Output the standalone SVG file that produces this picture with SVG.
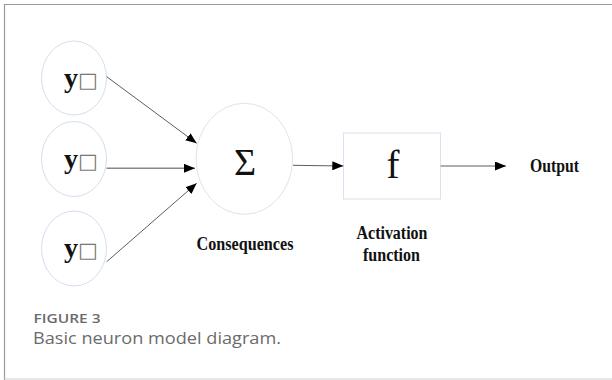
<svg xmlns="http://www.w3.org/2000/svg" width="612" height="380" viewBox="0 0 612 380">
<style>
.in{fill:#fff;stroke:#d3deef;stroke-width:1}
.sum{fill:#fff;stroke:#e6e4d6;stroke-width:1}
.box{fill:#fff;stroke:#d8e2f0;stroke-width:1}
.lbl{font-family:"Liberation Serif","Times New Roman",serif;font-weight:bold;fill:#111}
.sym{font-family:"Liberation Serif","Times New Roman",serif;fill:#111}
.tofu{font-family:"DejaVu Sans",sans-serif;fill:#777;font-weight:normal}
.ln{stroke:#333;stroke-width:0.8;fill:none;marker-end:url(#ah)}
.cap1{font-family:"Open Sans",sans-serif;font-weight:600;fill:#6b6b6b}
.cap2{font-family:"Open Sans",sans-serif;fill:#6b6b6b}
</style>
<defs>
<marker id="ah" viewBox="0 0 10 10" refX="10" refY="5" markerUnits="userSpaceOnUse" markerWidth="11" markerHeight="9" orient="auto" preserveAspectRatio="none">
<path d="M0,0 L10,5 L0,10 z" fill="#000"/>
</marker>
</defs>
<rect width="612" height="380" fill="#fff"/>
<path d="M612,4.5 H4.5 V380" fill="none" stroke="#9a9a9a" stroke-width="1.2"/>
<path d="M4.5,379 H612" fill="none" stroke="#d0d0d0" stroke-width="1.2"/>

<g id="in1">
<ellipse class="in" cx="74" cy="78" rx="32.5" ry="37"/>
<text class="lbl" x="64" y="87" font-size="28">y<tspan class="tofu" font-size="21">□</tspan></text>
</g>
<g id="in2">
<ellipse class="in" cx="74" cy="159" rx="32.5" ry="37.5"/>
<text class="lbl" x="64" y="168" font-size="28">y<tspan class="tofu" font-size="21">□</tspan></text>
</g>
<g id="in3">
<ellipse class="in" cx="74" cy="248.5" rx="32.5" ry="37.5"/>
<text class="lbl" x="64" y="257" font-size="28">y<tspan class="tofu" font-size="21">□</tspan></text>
</g>
<g id="sum">
<ellipse class="sum" cx="244.3" cy="158.8" rx="48.3" ry="55.5"/>
<text class="sym" x="245" y="174.5" font-size="38" text-anchor="middle">Σ</text>
<text class="lbl" x="245" y="249.5" font-size="18" text-anchor="middle" textLength="97" lengthAdjust="spacingAndGlyphs">Consequences</text>
</g>
<g id="act">
<rect class="box" x="343.5" y="133" width="97" height="66"/>
<text class="sym" x="393" y="177.5" font-size="39" text-anchor="middle">f</text>
<text class="lbl" x="392" y="239" font-size="18" text-anchor="middle" textLength="71" lengthAdjust="spacingAndGlyphs">Activation</text>
<text class="lbl" x="391.5" y="261" font-size="18" text-anchor="middle" textLength="57" lengthAdjust="spacingAndGlyphs">function</text>
</g>
<g id="out">
<text class="lbl" x="530" y="171.5" font-size="18" textLength="49" lengthAdjust="spacingAndGlyphs">Output</text>
</g>
<g id="connectors">
<line class="ln" x1="106.7" y1="76.7" x2="196.7" y2="143.3"/>
<line class="ln" x1="106.5" y1="168.3" x2="195" y2="168.3" style="stroke:#888;stroke-width:1.4"/>
<line class="ln" x1="106.7" y1="261.7" x2="196.7" y2="183.3"/>
<line class="ln" x1="293" y1="165.3" x2="343.3" y2="166"/>
<line class="ln" x1="440.7" y1="166" x2="506" y2="166"/>
</g>
<g id="caption">
<text class="cap1" x="33.5" y="323" font-size="13" textLength="67" lengthAdjust="spacingAndGlyphs">FIGURE 3</text>
<text class="cap2" x="33" y="344" font-size="16.5" textLength="248" lengthAdjust="spacingAndGlyphs">Basic neuron model diagram.</text>
</g>
</svg>
